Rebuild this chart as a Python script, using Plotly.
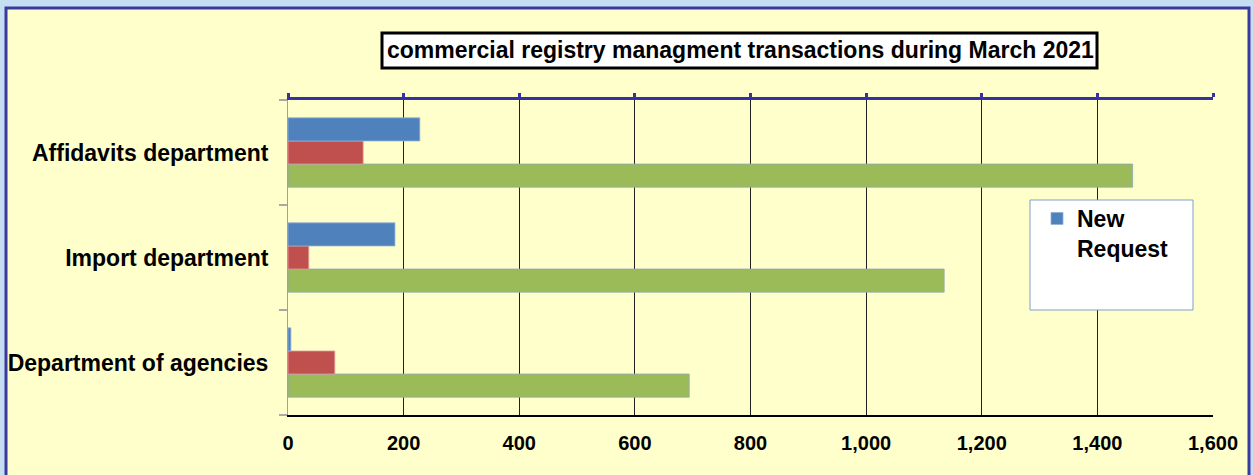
import plotly.graph_objects as go

categories = ["Affidavits department", "Import department", "Department of agencies"]
new_request = [228, 185, 5]
series_red = [130, 36, 81]
series_green = [1461, 1135, 694]
x_ticks = [0, 200, 400, 600, 800, 1000, 1200, 1400, 1600]
x_tick_labels = ["0", "200", "400", "600", "800", "1,000", "1,200", "1,400", "1,600"]
title_text = "commercial registry managment transactions during March 2021"

W, H = 1253, 475
L, R, T, B = 288, 1213, 100, 415


def px(x):
    return (x - L) / (R - L)


def py(y):
    return (B - y) / (B - T)


BOLD = "Arial, Liberation Sans, sans-serif"

fig = go.Figure()
# plotly stacks horizontal grouped bars from bottom to top: green, red, blue
fig.add_trace(go.Bar(y=categories, x=series_green, orientation="h", name="",
                     marker=dict(color="#9BBB59", line=dict(color="#8FA8B8", width=0.8)),
                     showlegend=False))
fig.add_trace(go.Bar(y=categories, x=series_red, orientation="h", name="",
                     marker=dict(color="#C0504D", line=dict(color="#E8A0A0", width=0.8)),
                     showlegend=False))
fig.add_trace(go.Bar(y=categories, x=new_request, orientation="h", name="New<br>Request",
                     marker=dict(color="#4F81BD", line=dict(color="#8FB0D8", width=0.8)),
                     showlegend=True))
# invisible copy on the top axis so that the blue top axis line is drawn
fig.add_trace(go.Bar(y=categories, x=new_request, orientation="h", xaxis="x2",
                     marker=dict(color="rgba(0,0,0,0)", line=dict(width=0)), opacity=0,
                     hoverinfo="skip", showlegend=False))

shapes = [
    # outer yellow frame
    dict(type="rect", xref="paper", yref="paper", x0=px(6), x1=px(1249), y0=py(490), y1=py(8),
         fillcolor="#FFFFCC", line=dict(color="#3A3A9E", width=3), layer="below"),
    # title box
    dict(type="rect", xref="paper", yref="paper", x0=px(382), x1=px(1097), y0=py(68), y1=py(33),
         fillcolor="#FFFFFF", line=dict(color="#000000", width=3), layer="above"),
    # legend box
    dict(type="rect", xref="paper", yref="paper", x0=px(1030), x1=px(1193), y0=py(310), y1=py(200),
         fillcolor="#FFFFFF", line=dict(color="#7F9FC8", width=1), layer="above"),
]

fig.update_layout(
    width=W, height=H,
    margin=dict(l=L, r=W - R, t=T, b=H - B, autoexpand=False),
    paper_bgcolor="#C6DEF2",
    plot_bgcolor="rgba(0,0,0,0)",
    barmode="group",
    bargap=0.34,
    bargroupgap=0,
    shapes=shapes,
    annotations=[dict(text=title_text, xref="paper", yref="paper", x=px(740), y=py(50),
                      showarrow=False, xanchor="center", yanchor="middle",
                      font=dict(family=BOLD, size=23, color="#000000", weight="bold"))],
    legend=dict(x=px(1037), y=py(197), xanchor="left", yanchor="top",
                bgcolor="rgba(0,0,0,0)", borderwidth=0, valign="top",
                font=dict(family=BOLD, size=23, color="#000000", weight="bold")),
    xaxis=dict(range=[0, 1600], tickvals=x_ticks, ticktext=x_tick_labels,
               showgrid=True, gridcolor="#202020", gridwidth=1,
               showline=True, linecolor="#000000", linewidth=2,
               ticks="", ticklabelstandoff=9, zeroline=False,
               tickfont=dict(family=BOLD, size=20, color="#000000", weight="bold")),
    xaxis2=dict(range=[0, 1600], tickvals=x_ticks, overlaying="x", side="top",
                anchor="y", showgrid=False, showline=True, linecolor="#3333A0", linewidth=3,
                ticks="outside", ticklen=4, tickwidth=3, tickcolor="#3333A0",
                showticklabels=False, zeroline=False),
    yaxis=dict(categoryorder="array", categoryarray=categories[::-1],
               showline=True, linecolor="#A0A0A0", linewidth=1,
               ticks="outside", tickson="boundaries", ticklen=8, tickwidth=2, tickcolor="#A8A8A8",
               ticklabelstandoff=14, showgrid=False, zeroline=False,
               tickfont=dict(family=BOLD, size=23, color="#000000", weight="bold")),
)

fig.write_html("out.html", config={"displayModeBar": False},
               post_script="document.body.style.margin='0';")
